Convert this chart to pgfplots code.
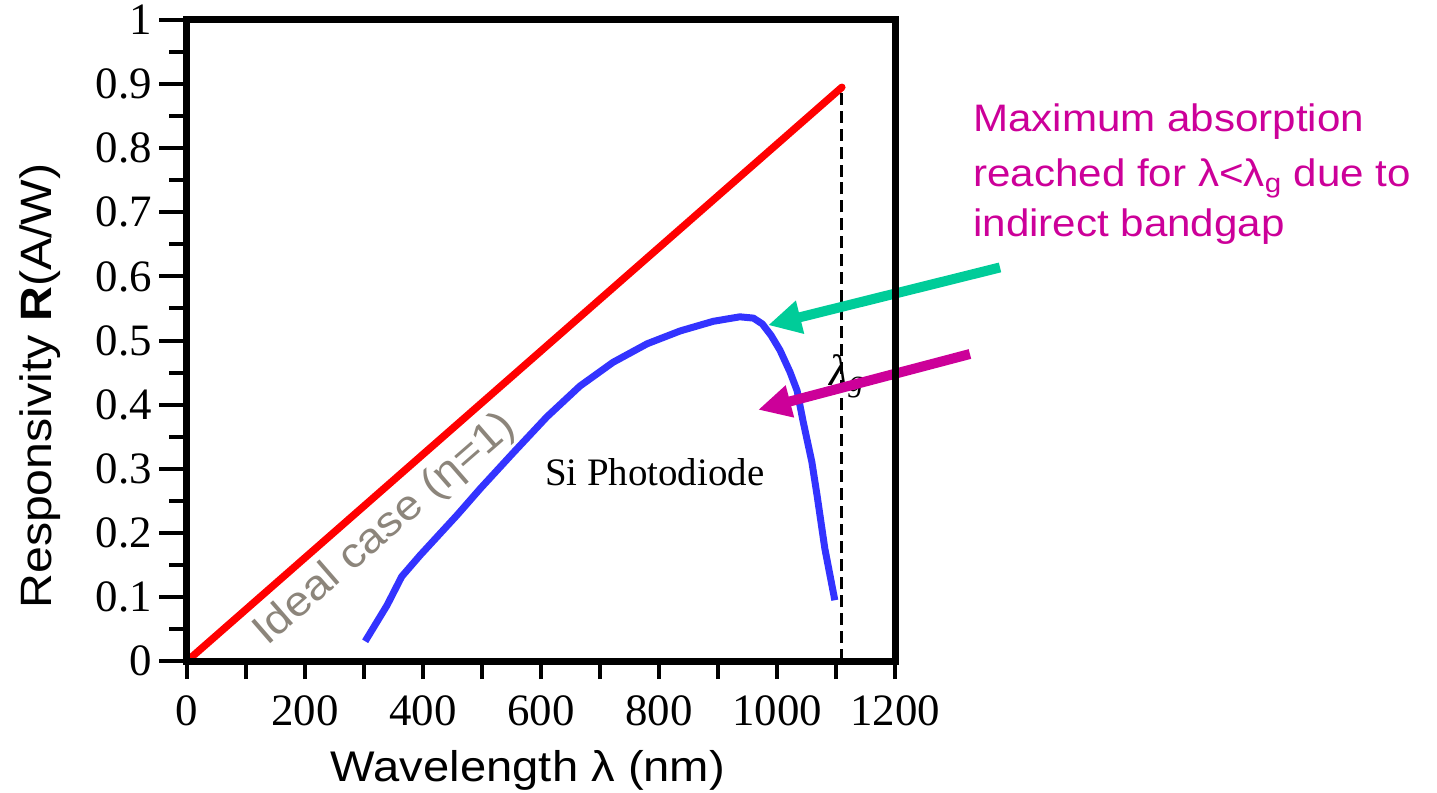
\documentclass[border=0pt]{standalone}
\usepackage{fontspec}
\setmainfont{Liberation Serif}
\newfontfamily\lab{Liberation Sans}[FakeStretch=1.1]
\usepackage{pgfplots}
\pgfplotsset{compat=1.18}
\usetikzlibrary{arrows.meta}
\definecolor{idealred}{RGB}{255,0,0}
\definecolor{siblue}{RGB}{51,51,255}
\definecolor{arrteal}{RGB}{0,204,153}
\definecolor{mag}{RGB}{204,0,153}
\definecolor{greytxt}{RGB}{140,133,123}

\begin{document}
\begin{tikzpicture}
\begin{axis}[
    scale only axis,
    width=355pt, height=321.5pt,
    xmin=0, xmax=1200, ymin=0, ymax=1,
    clip=false,
    axis on top,
    axis line style={line width=3.5pt},
    xtick={0,200,400,600,800,1000,1200},
    minor xtick={100,300,500,700,900,1100},
    ytick={0,0.1,0.2,0.3,0.4,0.5,0.6,0.7,0.8,0.9,1},
    minor ytick={0.05,0.15,0.25,0.35,0.45,0.55,0.65,0.75,0.85,0.95},
    xtick pos=left, ytick pos=left,
    tick align=outside,
    tick style={line width=2pt, black},
    major tick length=14pt, minor tick length=9pt,
    xtick style={/pgfplots/major tick length=9pt},
    tick label style={font=\fontsize{22.5}{26}\selectfont},
    /pgf/number format/assume math mode=true,
    /pgf/number format/1000 sep={},
    y tick label style={/pgf/number format/fixed, /pgf/number format/precision=1},
]
% ideal responsivity, eta = 1
\addplot[idealred, line width=3.7pt, line cap=round] coordinates {(0,0) (1110,0.895)};
% Si photodiode
\addplot[siblue, line width=3.5pt, line join=round] coordinates {
    (302,0.031) (339,0.087) (364,0.132) (395,0.165) (430,0.200) (458,0.228) (497,0.269)
    (553,0.325) (610,0.381) (666,0.429) (722,0.466) (780,0.495) (836,0.515)
    (892,0.530) (937,0.537) (960,0.535) (975,0.526) (990,0.508) (1005,0.485) (1022,0.451)
    (1034,0.422) (1044,0.375) (1059,0.311) (1068,0.258) (1081,0.176) (1098,0.095)
};
\draw[black, line width=1.5pt, dash pattern=on 6pt off 3pt] (axis cs:1110,0) -- (axis cs:1110,0.895);

\node[greytxt, rotate=41, font=\lab\fontsize{21}{24}\selectfont] at (axis cs:336,0.205) {Ideal case (η=1)};
\node[anchor=base west, font=\fontsize{19.5}{22}\selectfont] at (axis cs:595,0.274) {Si Photodiode};
\node[anchor=base west, inner sep=0pt, font=\fontsize{22}{24}\selectfont] at (axis cs:1088,0.43) {\textit{λ\textsubscript{g}}};

\draw[arrteal, line width=5pt, -{Triangle[length=16.5pt,width=16pt]}] (axis cs:1378,0.614) -- (axis cs:985,0.524);
\draw[mag, line width=5pt, -{Triangle[length=16.5pt,width=15.5pt]}] (axis cs:1327,0.479) -- (axis cs:968,0.392);

\node[mag, anchor=base west, inner sep=0pt, font=\lab\fontsize{19.2}{22}\selectfont] at (axis cs:1332,0.826) {Maximum absorption};
\node[mag, anchor=base west, inner sep=0pt, font=\lab\fontsize{19.2}{22}\selectfont] at (axis cs:1332,0.740) {reached for λ<λ\textsubscript{g} due to};
\node[mag, anchor=base west, inner sep=0pt, font=\lab\fontsize{19.2}{22}\selectfont] at (axis cs:1332,0.6625) {indirect bandgap};

\node[anchor=base, inner sep=0pt, font=\lab\fontsize{21.5}{24}\selectfont] at (axis cs:578,-0.188) {Wavelength λ (nm)};
\node[anchor=base, rotate=90, inner sep=0pt, font=\lab\fontsize{22}{24}\selectfont] at (axis cs:-230,0.429) {Responsivity \textbf{R}(A/W)};

\coordinate (bbl) at (rel axis cs:-0.2641,-0.2053);
\coordinate (btr) at (rel axis cs:1.7655,1.0311);
\end{axis}
\pgfresetboundingbox
\useasboundingbox (bbl) rectangle (btr);
\end{tikzpicture}
\end{document}
